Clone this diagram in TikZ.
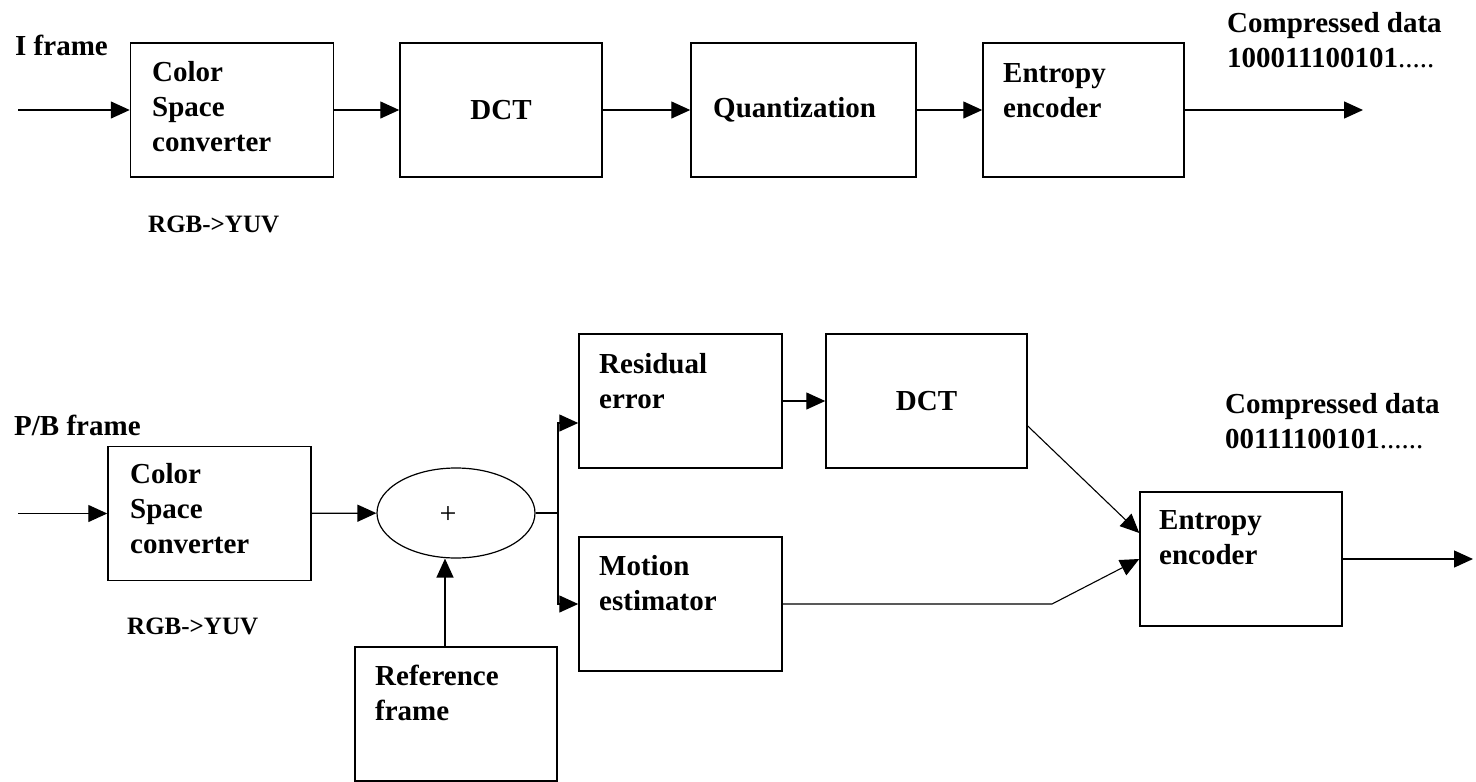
\documentclass[tikz,border=0pt]{standalone}
\usepackage{fontspec}
\setmainfont{Liberation Serif}
\usetikzlibrary{shapes.geometric,arrows.meta,calc}

\begin{document}
\begin{tikzpicture}[x=1pt,y=-1pt,
  box/.style={draw, line width=1.5pt, inner sep=0pt, minimum width=203pt,
              minimum height=134pt, font=\fontsize{29}{35}\selectfont\bfseries},
  lbl/.style={font=\fontsize{29}{35}\selectfont\bfseries, inner sep=0pt,
              align=left, anchor=base west},
  small lbl/.style={lbl, font=\fontsize{25}{30}\selectfont\bfseries},
  flow/.style={line width=1.4pt, -{Triangle[length=19pt,width=17pt]}},
  thin flow/.style={line width=1.1pt, -{Triangle[length=19pt,width=17pt]}},
  plain line/.style={line width=1.4pt},
]
\useasboundingbox (0,0) rectangle (1476,782);

% ---------- I frame pipeline ----------
\node[box] (csc1) at (232,110) {};
\node[box, minimum width=202pt] (dct1) at (501,110) {DCT};
\node[box, minimum width=225pt] (quant) at (803.5,110) {};
\node[box, minimum width=201pt] (ent1) at (1083.5,110) {};

\coordinate (in1) at (18,110);
\coordinate (out1) at (1363,110);

\draw[flow] (in1) -- (csc1);
\draw[flow] (csc1) -- (dct1);
\draw[flow] (dct1) -- (quant);
\draw[flow] (quant) -- (ent1);
\draw[flow] (ent1) -- (out1);

% multi-line labels are placed by the baseline of their last line
\node[lbl] (iframe) at (15,55) {I frame};
\node[lbl] (csc1txt) at (152,151) {Color\\Space\\converter};
\node[lbl] (quanttxt) at (713,117) {Quantization};
\node[lbl] (ent1txt) at (1003,117) {Entropy\\encoder};
\node[lbl] (cd1) at (1227,67) {Compressed data\\100011100101{\mdseries.....}};
\node[small lbl] (rgb1) at (148,232) {RGB->YUV};

% ---------- P/B frame pipeline ----------
\node[box] (csc2) at (209.5,513.5) {};
\node[draw, ellipse, line width=1.2pt, inner sep=0pt,
      minimum width=158pt, minimum height=90pt] (sum) at (456,513) {};
\node[box, minimum width=202pt] (ref) at (456,714) {};
\node[box] (res) at (680.5,401) {};
\node[box, minimum width=201pt] (dct2) at (926.5,401) {DCT};
\node[box] (mot) at (680.5,604) {};
\node[box, minimum width=202pt] (ent2) at (1241,559) {};

\coordinate (in2) at (18,513.5);
\coordinate (br) at (558,513);
\coordinate (bend) at (1052,604);
\coordinate (out2) at (1473,559);

\draw[flow] (in2) -- (csc2);
\draw[flow] (csc2) -- (sum);
\draw[flow] ([xshift=-11pt]ref.north) -- ([xshift=-11pt]sum.south);
\draw[plain line] (sum.east) -- (br);
\draw[flow] (br) |- ([yshift=-22pt]res.west);
\draw[flow] (br) |- (mot.west);
\draw[flow] (res) -- (dct2);
\draw[thin flow] ([yshift=-25pt]dct2.east) -- ([yshift=26pt]ent2.west);
\draw[thin flow] (mot.east) -- (bend) -- (ent2.west);
\draw[flow] (ent2) -- (out2);

\node[lbl] (pbframe) at (14,435) {P/B frame};
\node[lbl] (csc2txt) at (130,553) {Color\\Space\\converter};
\node[small lbl] (rgb2) at (127,634) {RGB->YUV};
\node[font=\fontsize{30}{34}\selectfont, inner sep=0pt] (plus) at (448,515) {+};
\node[lbl] (restxt) at (599,408) {Residual\\error};
\node[lbl] (mottxt) at (599,610) {Motion\\estimator};
\node[lbl] (reftxt) at (375,720) {Reference\\frame};
\node[lbl] (ent2txt) at (1159,564) {Entropy\\encoder};
\node[lbl] (cd2) at (1225,448) {Compressed data\\00111100101{\mdseries......}};
\end{tikzpicture}
\end{document}
